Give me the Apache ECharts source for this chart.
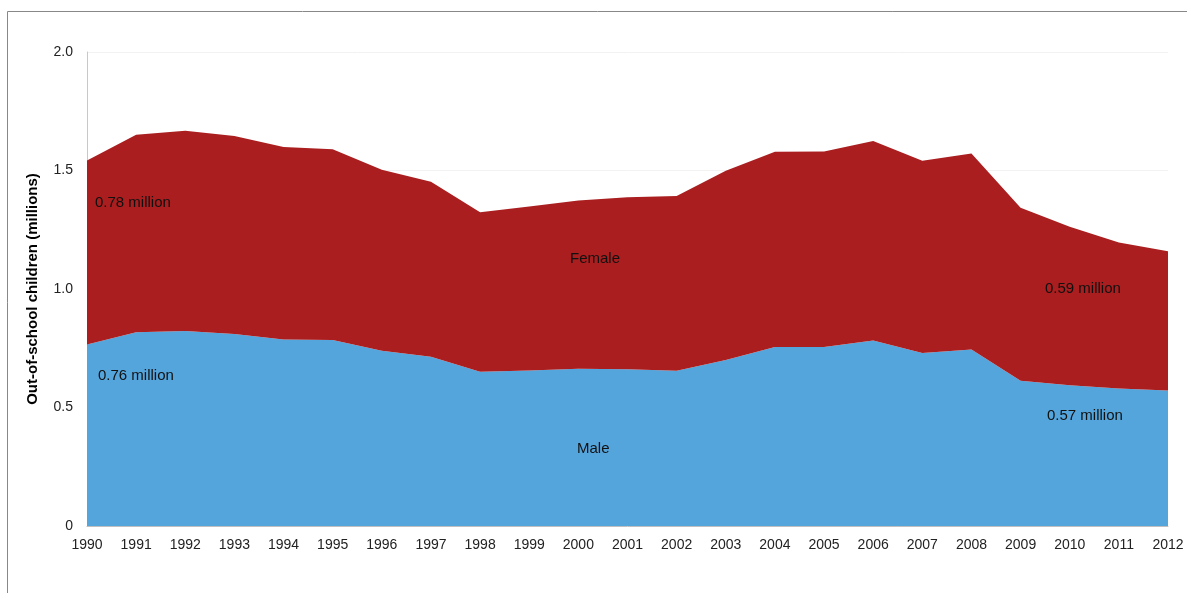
<!DOCTYPE html>
<html>
<head>
<meta charset="utf-8">
<script src="https://cdn.jsdelivr.net/npm/echarts@6/dist/echarts.min.js"></script>
<style>
  html, body { margin: 0; padding: 0; background: #fff; }
  #chart { width: 1187px; height: 593px; }
</style>
</head>
<body>
<div id="chart"></div>
<script>
  var years = ['1990', '1991', '1992', '1993', '1994', '1995', '1996', '1997', '1998', '1999', '2000',
    '2001', '2002', '2003', '2004', '2005', '2006', '2007', '2008', '2009', '2010', '2011', '2012'];
  var male = [0.766, 0.817, 0.823, 0.810, 0.787, 0.785, 0.739, 0.714, 0.651, 0.656, 0.663,
    0.661, 0.655, 0.700, 0.755, 0.755, 0.783, 0.730, 0.745, 0.613, 0.594, 0.580, 0.572];
  var female = [0.776, 0.834, 0.845, 0.836, 0.812, 0.805, 0.764, 0.739, 0.673, 0.692, 0.710,
    0.726, 0.737, 0.799, 0.824, 0.825, 0.842, 0.811, 0.827, 0.730, 0.669, 0.616, 0.587];
  var yTicks = [0, 0.5, 1.0, 1.5, 2.0];

  var font = "'Liberation Sans', 'Open Sans', sans-serif";
  var chart = echarts.init(document.getElementById('chart'));

  // text notes sit on top of the areas
  function note(x, y, text) {
    return {
      type: 'text', left: x, top: y, z: 100,
      style: { text: text, fill: '#111', font: '15px ' + font }
    };
  }

  var option = {
    animation: false,
    color: ['#55a5dd', '#aa1e1f'],
    grid: { left: 87, right: 19, top: 52, bottom: 67 },
    xAxis: {
      type: 'category',
      data: years,
      boundaryGap: false,
      axisTick: { show: false },
      axisLine: { lineStyle: { color: '#bfbfbf' } },
      axisLabel: { color: '#222', fontFamily: font, fontSize: 14, margin: 12 }
    },
    yAxis: {
      type: 'value',
      min: yTicks[0],
      max: yTicks[yTicks.length - 1],
      interval: 0.5,
      name: 'Out-of-school children (millions)',
      nameLocation: 'middle',
      nameGap: 47,
      nameTextStyle: { color: '#000', fontFamily: font, fontSize: 15, fontWeight: 'bold' },
      axisLine: { show: true, lineStyle: { color: '#c8c8c8' } },
      axisTick: { show: false },
      splitLine: { lineStyle: { color: '#f2f2f2' } },
      axisLabel: {
        color: '#222', fontFamily: font, fontSize: 14, margin: 14,
        formatter: function (v) { return v === 0 ? '0' : v.toFixed(1); }
      }
    },
    series: [
      {
        name: 'Male', type: 'line', stack: 'total', data: male,
        showSymbol: false, lineStyle: { width: 0 }, areaStyle: { opacity: 1 }
      },
      {
        name: 'Female', type: 'line', stack: 'total', data: female,
        showSymbol: false, lineStyle: { width: 0 }, areaStyle: { opacity: 1 }
      }
    ],
    graphic: [
      {
        type: 'rect', silent: true,
        shape: { x: 7.5, y: 11.5, width: 1400, height: 800 },
        style: { fill: 'none', stroke: '#888', lineWidth: 1 }
      },
      note(95, 195, '0.78 million'),
      note(98, 368, '0.76 million'),
      note(570, 251, 'Female'),
      note(577, 441, 'Male'),
      note(1045, 281, '0.59 million'),
      note(1047, 408, '0.57 million')
    ]
  };
  chart.setOption(option);
</script>
</body>
</html>
